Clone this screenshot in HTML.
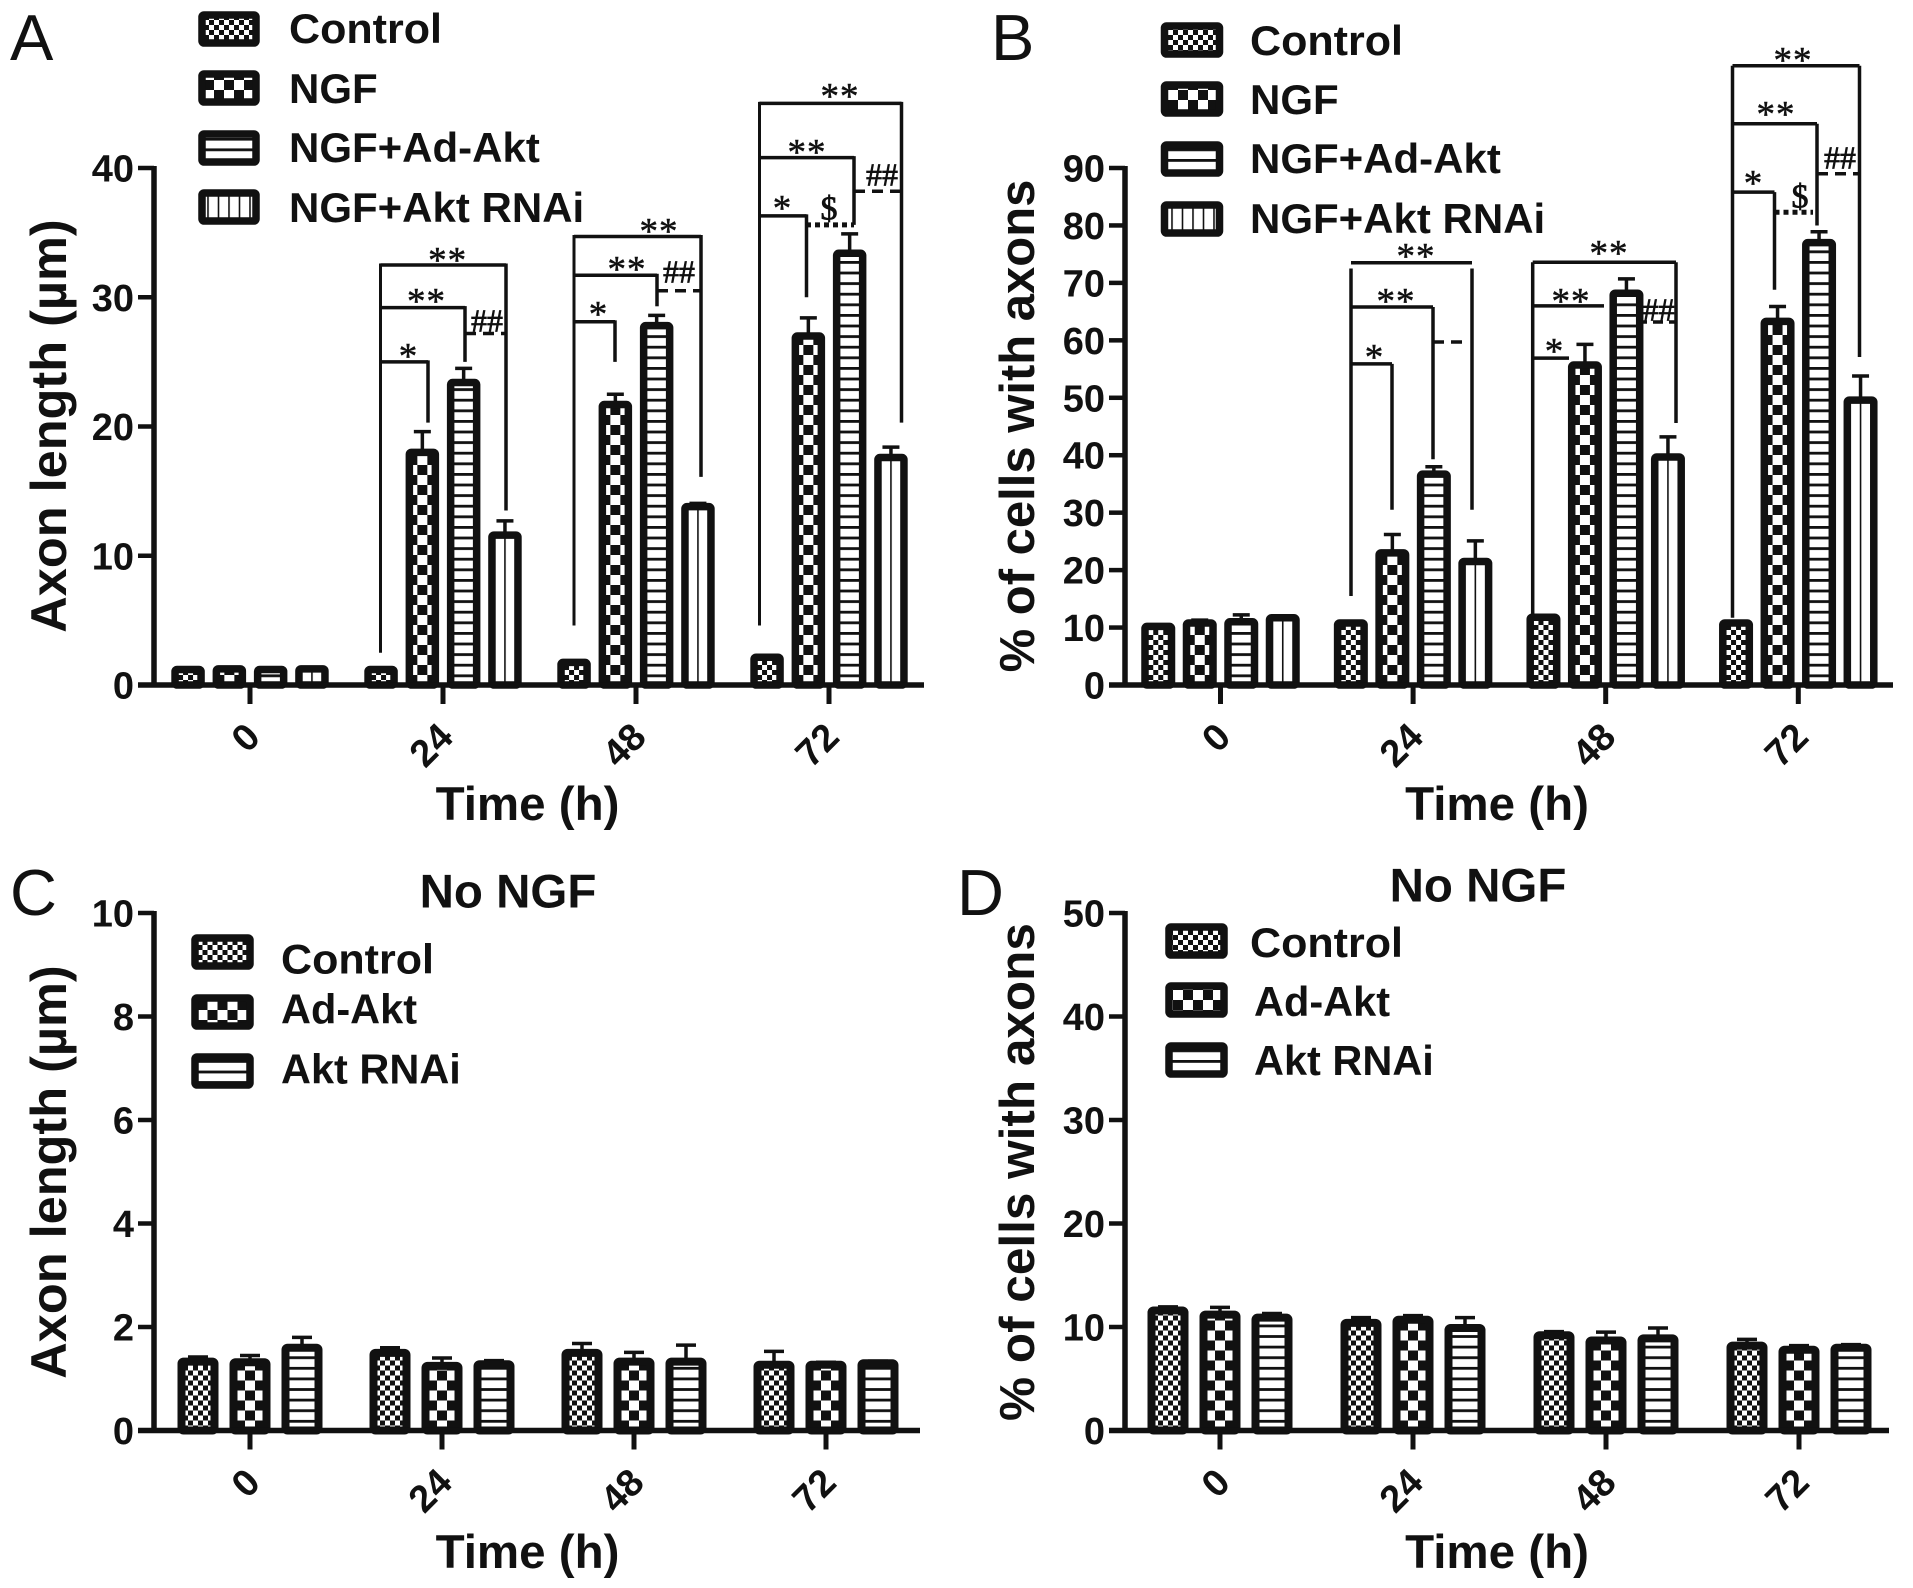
<!DOCTYPE html>
<html lang="en">
<head>
<meta charset="utf-8">
<title>Axon length and percentage of cells with axons</title>
<style>
html,body{margin:0;padding:0;background:#fff}
svg{display:block}
text{font-family:"Liberation Sans",sans-serif;fill:#111}
.lbl{font-weight:bold;font-size:42px}
.lbl2{font-weight:bold;font-size:41.5px}
.ttl{font-weight:bold;font-size:47.5px;text-anchor:middle}
.yt{font-weight:bold;text-anchor:middle}
.let{font-size:65px}
.sw{stroke:#111;stroke-width:7.5;stroke-linejoin:round}
</style>
</head>
<body>
<svg id="figure" xmlns="http://www.w3.org/2000/svg" width="1913" height="1588" viewBox="0 0 1913 1588">
<defs>
<pattern id="pat-control" patternUnits="userSpaceOnUse" width="10" height="10"><rect width="10" height="10" fill="#fff"/><rect width="5" height="5" fill="#111"/><rect x="5" y="5" width="5" height="5" fill="#111"/></pattern>
<pattern id="pat-ngf" patternUnits="userSpaceOnUse" width="20" height="20" patternTransform="translate(-5 0)"><rect width="20" height="20" fill="#fff"/><rect width="10" height="10" fill="#111"/><rect x="10" y="10" width="10" height="10" fill="#111"/></pattern>
<pattern id="pat-adakt" patternUnits="userSpaceOnUse" width="10" height="10.6"><rect width="10" height="10.6" fill="#fff"/><rect width="10" height="2.8" fill="#111"/></pattern>
<pattern id="pat-rnai" patternUnits="userSpaceOnUse" width="10.5" height="10" patternTransform="translate(-0.8 0)"><rect width="10.5" height="10" fill="#fff"/><rect width="1.6" height="10" fill="#111"/></pattern>
</defs>
<rect width="1913" height="1588" fill="#fff"/>

<text class="let" x="10" y="60">A</text>
<text class="let" x="991" y="60">B</text>
<text class="let" x="10" y="915">C</text>
<text class="let" x="957" y="915">D</text>

<text class="yt" font-size="50.5" transform="translate(66 426) rotate(-90)">Axon length (µm)</text>
<text class="yt" font-size="49" transform="translate(1034 426) rotate(-90)">% of cells with axons</text>
<text class="yt" font-size="50.5" transform="translate(66 1172) rotate(-90)">Axon length (µm)</text>
<text class="yt" font-size="49.5" transform="translate(1034 1172) rotate(-90)">% of cells with axons</text>

<text class="ttl" x="527.5" y="820">Time (h)</text>
<text class="ttl" x="1497" y="820">Time (h)</text>
<text class="ttl" x="527.5" y="1568">Time (h)</text>
<text class="ttl" x="1497" y="1568">Time (h)</text>
<text class="ttl" x="508" y="907.5">No NGF</text>
<text class="ttl" x="1478" y="901.5">No NGF</text>

<g>
<g transform="translate(229 0)"><rect class="sw" x="-27" y="15" width="54" height="28" rx="2" fill="url(#pat-control)"/></g>
<g transform="translate(229 0)"><rect class="sw" x="-27" y="74" width="54" height="28" rx="2" fill="url(#pat-ngf)"/></g>
<g transform="translate(229 0)"><rect class="sw" x="-27" y="134" width="54" height="28" rx="2" fill="url(#pat-adakt)"/></g>
<g transform="translate(229 0)"><rect class="sw" x="-27" y="193" width="54" height="28" rx="2" fill="url(#pat-rnai)"/></g>
<text class="lbl" x="289" y="43" textLength="153" lengthAdjust="spacingAndGlyphs">Control</text>
<text class="lbl" x="289" y="103">NGF</text>
<text class="lbl" x="289" y="162">NGF+Ad-Akt</text>
<text class="lbl" x="289" y="222">NGF+Akt RNAi</text>
</g>
<g>
<g transform="translate(1193 0)"><rect class="sw" x="-28.5" y="26" width="55" height="28" rx="2" fill="url(#pat-control)"/></g>
<g transform="translate(1193 0)"><rect class="sw" x="-28.5" y="85" width="55" height="28" rx="2" fill="url(#pat-ngf)"/></g>
<g transform="translate(1193 0)"><rect class="sw" x="-28.5" y="145" width="55" height="28" rx="2" fill="url(#pat-adakt)"/></g>
<g transform="translate(1193 0)"><rect class="sw" x="-28.5" y="205" width="55" height="28" rx="2" fill="url(#pat-rnai)"/></g>
<text class="lbl" x="1250" y="55" textLength="153" lengthAdjust="spacingAndGlyphs">Control</text>
<text class="lbl" x="1250" y="114">NGF</text>
<text class="lbl" x="1250" y="173">NGF+Ad-Akt</text>
<text class="lbl" x="1250" y="233">NGF+Akt RNAi</text>
</g>
<g>
<g transform="translate(222.5 0)"><rect class="sw" x="-27.5" y="938" width="55" height="28" rx="2" fill="url(#pat-control)"/></g>
<g transform="translate(222.5 0)"><rect class="sw" x="-27.5" y="998" width="55" height="28" rx="2" fill="url(#pat-ngf)"/></g>
<g transform="translate(222.5 0)"><rect class="sw" x="-27.5" y="1057" width="55" height="28" rx="2" fill="url(#pat-adakt)"/></g>
<text class="lbl2" x="281" y="973.5" textLength="153" lengthAdjust="spacingAndGlyphs">Control</text>
<text class="lbl2" x="281" y="1023.5">Ad-Akt</text>
<text class="lbl2" x="281" y="1083.5">Akt RNAi</text>
</g>
<g>
<g transform="translate(1198 0)"><rect class="sw" x="-29" y="927" width="55" height="28" rx="2" fill="url(#pat-control)"/></g>
<g transform="translate(1198 0)"><rect class="sw" x="-29" y="986" width="55" height="28" rx="2" fill="url(#pat-ngf)"/></g>
<g transform="translate(1198 0)"><rect class="sw" x="-29" y="1046" width="55" height="28" rx="2" fill="url(#pat-adakt)"/></g>
<text class="lbl2" x="1250" y="957" textLength="153" lengthAdjust="spacingAndGlyphs">Control</text>
<text class="lbl2" x="1254" y="1016">Ad-Akt</text>
<text class="lbl2" x="1254" y="1075">Akt RNAi</text>
</g>
</svg>

<script>
// ---------- shared labels ----------
const timeLabels = ['0', '24', '48', '72'];
const seriesNamesFour = ['control', 'ngf', 'ngf-ad-akt', 'ngf-akt-rnai'];
const seriesNamesThree = ['control', 'ad-akt', 'akt-rnai'];

// ---------- tick labels ----------
const ticksA = [0, 10, 20, 30, 40];
const ticksB = [0, 10, 20, 30, 40, 50, 60, 70, 80, 90];
const ticksC = [0, 2, 4, 6, 8, 10];
const ticksD = [0, 10, 20, 30, 40, 50];

// ---------- panel A: axon length, with NGF ----------
const aControl = [1.2, 1.2, 1.75, 2.15];
const aNgf = [1.25, 18.0, 21.7, 27.0];
const aAdAkt = [1.2, 23.4, 27.8, 33.4];
const aRnai = [1.25, 11.6, 13.8, 17.6];
const aControlErr = [0, 0, 0.05, 0.05];
const aNgfErr = [0, 1.6, 0.8, 1.4];
const aAdAktErr = [0, 1.1, 0.8, 1.5];
const aRnaiErr = [0.05, 1.1, 0.25, 0.8];

// ---------- panel B: % of cells with axons, with NGF ----------
const bControl = [10.2, 10.8, 11.8, 10.8];
const bNgf = [10.8, 23.0, 55.7, 63.3];
const bAdAkt = [11.0, 36.7, 68.2, 77.0];
const bRnai = [11.7, 21.5, 39.7, 49.6];
const bControlErr = [0.1, 0.1, 0.1, 0.1];
const bNgfErr = [0.5, 3.2, 3.6, 2.6];
const bAdAktErr = [1.2, 1.3, 2.5, 1.9];
const bRnaiErr = [0.2, 3.6, 3.5, 4.2];

// ---------- panel C: axon length, no NGF ----------
const cControl = [1.33, 1.5, 1.5, 1.27];
const cAdAkt = [1.32, 1.25, 1.33, 1.27];
const cRnai = [1.6, 1.28, 1.33, 1.3];
const cControlErr = [0.09, 0.1, 0.18, 0.26];
const cAdAktErr = [0.13, 0.15, 0.18, 0.05];
const cRnaiErr = [0.2, 0.07, 0.32, 0.04];

// ---------- panel D: % of cells with axons, no NGF ----------
const dControl = [11.6, 10.4, 9.2, 8.2];
const dAdAkt = [11.2, 10.7, 8.7, 7.8];
const dRnai = [10.9, 9.9, 8.9, 8.0];
const dControlErr = [0.35, 0.5, 0.35, 0.6];
const dAdAktErr = [0.7, 0.4, 0.8, 0.4];
const dRnaiErr = [0.4, 1.0, 1.0, 0.3];

const SVGNS = 'http://www.w3.org/2000/svg';
const INK = '#111';
const figure = document.getElementById('figure');

function make(tag, attrs, parent) {
  const node = document.createElementNS(SVGNS, tag);
  for (const k in attrs) node.setAttribute(k, attrs[k]);
  parent.appendChild(node);
  return node;
}

function drawPanel(p) {
  const yScale = v => p.y0 - (v / p.yMax) * (p.y0 - p.yTop);
  const groupX = i => p.x0 + i * p.step;
  const root = make('g', {}, figure);
  
  

  const n = p.series.length;
  p.series.forEach((vals, s) => {
    vals.forEach((v, g) => {
      const cx = groupX(g) + (s - (n - 1) / 2) * p.barStep;
      const half = p.barW / 2 - p.sw / 2;
      const top = yScale(v);
      const e = p.errors[s][g];
      const stem = make('line', {x1: cx, x2: cx, y1: top, y2: yScale(v + e), stroke: INK, 'stroke-width': 3.5}, root);
      
      
      const cap = make('line', {x1: cx - p.cap / 2, x2: cx + p.cap / 2, y1: yScale(v + e), y2: yScale(v + e), stroke: INK, 'stroke-width': 3.5}, root);
      
      
      const holder = make('g', {transform: 'translate(' + cx + ' ' + p.y0 + ')'}, root);
      
      
      const h = p.y0 - top;
      const bar = make('rect', {x: -half, y: -h, width: half * 2, height: Math.max(h, 0.5), rx: 2, fill: 'url(#' + p.patterns[s] + ')', stroke: INK, 'stroke-width': p.sw, 'stroke-linejoin': 'round'}, holder);
      
      
    });
  });

  const yLine = make('line', {x1: p.axisX, x2: p.axisX, y1: p.yTop - 2, y2: p.y0 + 2.5, stroke: INK, 'stroke-width': 5.5}, root);
  
  
  const xLine = make('line', {x1: p.axisX - 16, x2: p.axisEnd, y1: p.y0, y2: p.y0, stroke: INK, 'stroke-width': 5.5}, root);
  
  

  p.ticks.forEach(t => {
    const tk = make('line', {x1: p.axisX - 16, x2: p.axisX, y1: yScale(t), y2: yScale(t), stroke: INK, 'stroke-width': 4.5}, root);
    
    
    const lb = make('text', {x: p.axisX - 20, y: yScale(t) + 13.5, 'text-anchor': 'end', 'font-size': 38, 'font-weight': 'bold'}, root);
    lb.textContent = String(t);
    
    
  });

  timeLabels.forEach((label, g) => {
    const x = groupX(g);
    const tk = make('line', {x1: x, x2: x, y1: p.y0, y2: p.y0 + 19, stroke: INK, 'stroke-width': 5}, root);
    
    
    const ax = x + 3;
    const ay = p.y0 + 45;
    const lb = make('text', {x: ax, y: ay + 13, 'text-anchor': 'end', 'font-size': 38, 'font-weight': 'bold', transform: 'rotate(-45 ' + ax + ' ' + ay + ')'}, root);
    lb.textContent = label;
    
    
  });

  return yScale;
}

function drawLine(x1, y1, x2, y2, width, dash) {
  const ln = make('line', {x1: x1, y1: y1, x2: x2, y2: y2, stroke: INK, 'stroke-width': width}, figure);
  if (dash) ln.setAttribute('stroke-dasharray', dash);
  
  
  return ln;
}

function mark(str, cx, cy, size, drop, spacing, heavy) {
  const t = make('text', {x: cx, y: cy + size * drop, 'text-anchor': 'middle', 'font-size': size}, figure);
  t.style.fontFamily = '"Liberation Serif", serif';
  if (spacing) t.style.letterSpacing = spacing + 'px';
  if (heavy) {
    t.style.stroke = INK;
    t.style.strokeWidth = heavy + 'px';
  }
  t.textContent = str;
  
  
}
const star = (s, x, y) => mark(s, x, y, 37, 0.44, s.length > 1 ? 1 : 0, 0.5);
const hash = (x, y) => mark('##', x, y, 32, 0.33, 0, 0.7);
const dollar = (x, y) => mark('$', x, y, 34, 0.34, 0, 0.8);

const yA = drawPanel({id: 'a', series: [aControl, aNgf, aAdAkt, aRnai], errors: [aControlErr, aNgfErr, aAdAktErr, aRnaiErr], names: seriesNamesFour,
  patterns: ['pat-control', 'pat-ngf', 'pat-adakt', 'pat-rnai'], ticks: ticksA, yMax: 40, y0: 685, yTop: 168, x0: 250, step: 193, barStep: 41.3, barW: 33.5, sw: 7.5, cap: 17, axisX: 154, axisEnd: 924});
const yB = drawPanel({id: 'b', series: [bControl, bNgf, bAdAkt, bRnai], errors: [bControlErr, bNgfErr, bAdAktErr, bRnaiErr], names: seriesNamesFour,
  patterns: ['pat-control', 'pat-ngf', 'pat-adakt', 'pat-rnai'], ticks: ticksB, yMax: 90, y0: 685, yTop: 168, x0: 1220.5, step: 192.6, barStep: 41.5, barW: 34, sw: 7.5, cap: 17, axisX: 1125, axisEnd: 1893});
const yC = drawPanel({id: 'c', series: [cControl, cAdAkt, cRnai], errors: [cControlErr, cAdAktErr, cRnaiErr], names: seriesNamesThree,
  patterns: ['pat-control', 'pat-ngf', 'pat-adakt'], ticks: ticksC, yMax: 10, y0: 1430.5, yTop: 913, x0: 250, step: 192, barStep: 52, barW: 41, sw: 8, cap: 20, axisX: 154, axisEnd: 920});
const yD = drawPanel({id: 'd', series: [dControl, dAdAkt, dRnai], errors: [dControlErr, dAdAktErr, dRnaiErr], names: seriesNamesThree,
  patterns: ['pat-control', 'pat-ngf', 'pat-adakt'], ticks: ticksD, yMax: 50, y0: 1430.5, yTop: 913, x0: 1220, step: 193, barStep: 52, barW: 41, sw: 8, cap: 20, axisX: 1125, axisEnd: 1889});

// ---------- panel A brackets (levels in axis units) ----------
[[380.5, 428, 465, 506, 32.5, 29.2, 25.0, 27.2, 2.5, 20.3, 25.0, 13.5],
 [574, 615, 657, 701, 34.7, 31.7, 28.1, 30.5, 4.6, 25.0, 29.3, 16.1],
 [759.5, 806.5, 854, 901.5, 45.0, 40.8, 36.3, 38.2, 4.6, 30.0, 35.6, 20.3]].forEach(b => {
  const [xL, xS, xM, xR, top, mid, low, dash, endL, endS, endM, endR] = b;
  drawLine(xL, yA(top) - 1.5, xL, yA(endL), 3);
  drawLine(xL, yA(top), xR, yA(top), 3.5);
  drawLine(xR, yA(top) - 1.5, xR, yA(endR), 3.5);
  drawLine(xL, yA(mid), xM, yA(mid), 3.5);
  drawLine(xM, yA(mid) - 1.5, xM, yA(endM), 3.5);
  drawLine(xL, yA(low), xS, yA(low), 3.5);
  drawLine(xS, yA(low) - 1.5, xS, yA(endS), 3.5);
  drawLine(xM, yA(dash), xR, yA(dash), 3.5, '11 7');
});
drawLine(806, yA(35.6), 854, yA(35.6), 5, '5 4');

star('*', 408, 352); star('**', 426.5, 297); star('**', 447.6, 256); hash(487, 321);
star('*', 598, 310); star('**', 627, 265); star('**', 659, 227); hash(679, 272);
star('*', 782, 204); star('**', 807, 148); star('**', 840, 92); hash(882, 175); dollar(829, 208);

// ---------- panel B brackets (levels in axis units) ----------
drawLine(1351, yB(72.5), 1351, yB(15.5), 3.5);
drawLine(1351, yB(73.5), 1472, yB(73.5), 3.5);
drawLine(1472, yB(72.5), 1472, yB(30.5), 3.5);
drawLine(1351, yB(65.8), 1433, yB(65.8), 3.5);
drawLine(1433, yB(65.8), 1433, yB(39.3), 3.5);
drawLine(1351, yB(55.9), 1392, yB(55.9), 3.5);
drawLine(1392, yB(55.9), 1392, yB(30.5), 3.5);
drawLine(1433, yB(59.7), 1463, yB(59.7), 3.5, '11 7');

drawLine(1532.7, yB(73.6), 1532.7, yB(11.7), 3.5);
drawLine(1532.7, yB(73.6), 1676, yB(73.6), 3.5);
drawLine(1676, yB(73.6), 1676, yB(45.6), 3.5);
drawLine(1532.7, yB(66), 1604, yB(66), 3.5);
drawLine(1532.7, yB(56.9), 1569, yB(56.9), 3.5);
drawLine(1637, yB(63.2), 1676, yB(63.2), 3.5, '10 6');

drawLine(1732.5, yB(107.8), 1732.5, yB(11.7), 3.5);
drawLine(1732.5, yB(107.8), 1859.5, yB(107.8), 3.5);
drawLine(1859.5, yB(107.8), 1859.5, yB(57.1), 3.5);
drawLine(1732.5, yB(97.7), 1817, yB(97.7), 3.5);
drawLine(1817, yB(97.7), 1817, yB(80), 3.5);
drawLine(1732.5, yB(85.8), 1774.5, yB(85.8), 3.5);
drawLine(1774.5, yB(85.8), 1774.5, yB(68.8), 3.5);
drawLine(1774.5, yB(82.3), 1813, yB(82.3), 5, '5 4');
drawLine(1817, yB(89), 1859.5, yB(89), 3.5, '11 7');

star('*', 1374, 353); star('**', 1396, 297); star('**', 1416, 252);
star('*', 1554, 347); star('**', 1571, 297); star('**', 1609, 249); hash(1658.6, 310);
star('*', 1753, 179); star('**', 1776, 110); star('**', 1793, 56); hash(1840, 158); dollar(1800, 196);
</script>
</body>
</html>
